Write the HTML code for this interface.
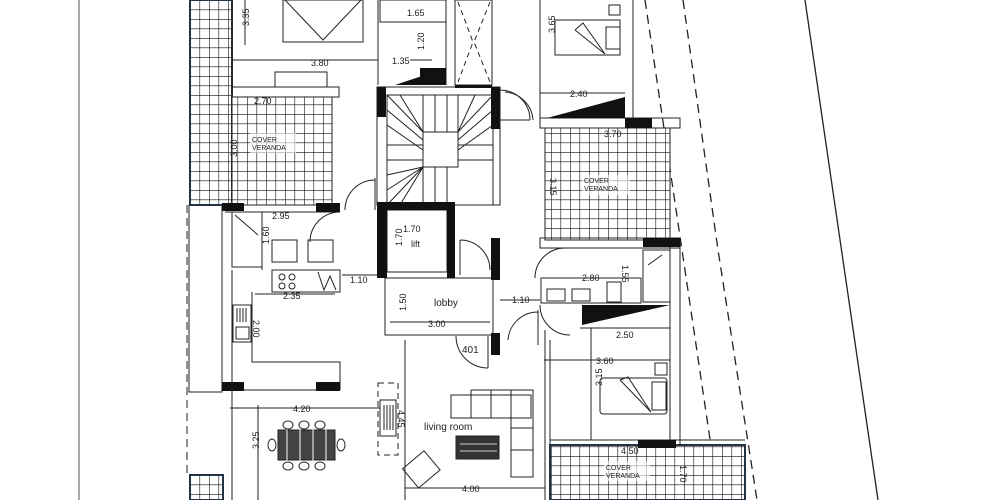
<!DOCTYPE html>
<html><head><meta charset="utf-8"><style>
html,body{margin:0;padding:0;background:#fff;}
svg{display:block}
text{font-family:"Liberation Sans",sans-serif;fill:#222;stroke:none;}
</style></head><body>
<svg width="1000" height="500" viewBox="0 0 1000 500" xmlns="http://www.w3.org/2000/svg">
<defs>
<pattern id="g" width="9.5" height="9.5" patternUnits="userSpaceOnUse">
<rect width="9.5" height="9.5" fill="#fff"/>
<path d="M0 0H9.5M0 0V9.5" stroke="#111" stroke-width="1.2"/>
</pattern>
</defs>
<g fill="none" stroke="#222" stroke-width="1">
<line x1="79" y1="0" x2="79" y2="500" stroke="#555"/>
<line x1="805" y1="0" x2="878" y2="500" stroke-width="1.3"/>
<polyline points="645,0 682,250 719,500" stroke-dasharray="9,6" stroke-width="1.3"/>
<polyline points="683,0 718,250 757,500" stroke-dasharray="9,6" stroke-width="1.3"/>
<line x1="187" y1="205" x2="187" y2="478" stroke-dasharray="8,5"/>
<rect x="189" y="205" width="33" height="187"/>
</g>
<rect x="190" y="0" width="42" height="205" fill="url(#g)" stroke="#234" stroke-width="2"/>
<rect x="232" y="97" width="100" height="108" fill="url(#g)" stroke="#222"/>
<rect x="545" y="128" width="125" height="112" fill="url(#g)" stroke="#222"/>
<rect x="550" y="445" width="195" height="55" fill="url(#g)" stroke="#234" stroke-width="2"/>
<rect x="190" y="475" width="33" height="25" fill="url(#g)" stroke="#234" stroke-width="2"/>
<g fill="#fff" stroke="none" opacity="0.6">
<rect x="250" y="133" width="46" height="20"/><rect x="582" y="175" width="48" height="20"/><rect x="604" y="461" width="46" height="20"/>
</g>
<text x="252" y="142" font-size="7">COVER</text><text x="252" y="150" font-size="7">VERANDA</text>
<text x="584" y="183" font-size="7">COVER</text><text x="584" y="191" font-size="7">VERANDA</text>
<text x="606" y="470" font-size="7">COVER</text><text x="606" y="478" font-size="7">VERANDA</text>

<g fill="none" stroke="#222" stroke-width="1">
<rect x="283" y="0" width="80" height="42"/>
<polyline points="285,0 323,40 361,0"/>
<line x1="232" y1="0" x2="232" y2="90"/>
<line x1="245" y1="0" x2="245" y2="45"/>
<rect x="232" y="87" width="107" height="10"/>
<rect x="275" y="72" width="52" height="15"/>
<line x1="232" y1="60" x2="378" y2="60"/>
<line x1="378" y1="0" x2="378" y2="85"/>
<rect x="380" y="0" width="66" height="22"/>
<line x1="446" y1="0" x2="446" y2="85"/>
<rect x="455" y="0" width="37" height="85"/>
<polyline points="458,2 473,42 458,82" stroke-dasharray="5,4"/>
<polyline points="490,2 474,42 490,82" stroke-dasharray="5,4"/>
<line x1="410" y1="60" x2="432" y2="60"/>
<rect x="377" y="87" width="123" height="118"/>
<rect x="387" y="95" width="106" height="110"/>
<rect x="423" y="132" width="35" height="35"/>
<path d="M387,95 423,132 M493,95 458,132 M387,205 423,167 M423,95V132 M435,95V132 M447,95V132 M458,95V132 M400,95L423,132 M475,95 458,132 M387,110 423,140 M387,125 423,150 M387,145H423 M387,160H423 M387,175 423,167 M387,190 423,167 M493,110 458,140 M493,125 458,150 M458,145H493 M458,160H493 M423,167V205 M435,167V205 M447,167V205 M400,205 423,167"/>
<path d="M500,90 A30,30 0 0 1 530,120 M500,120H530"/>
<rect x="387" y="210" width="60" height="62"/>
<path d="M460,240 A30,30 0 0 1 490,270 M460,240V275"/>
<rect x="385" y="278" width="108" height="57"/>
<line x1="390" y1="322" x2="490" y2="322"/>
<path d="M456,336 A32,32 0 0 0 488,368 M488,336V368"/>
<line x1="405" y1="340" x2="405" y2="500"/>
<line x1="342" y1="275" x2="378" y2="275"/>
<path d="M345,210 A30,30 0 0 1 375,180 M375,178V210"/>
<rect x="232" y="212" width="30" height="55"/>
<line x1="235" y1="215" x2="258" y2="235"/>
<line x1="262" y1="212" x2="262" y2="270"/>
<rect x="272" y="240" width="25" height="22"/><rect x="308" y="240" width="25" height="22"/>
<line x1="225" y1="212" x2="340" y2="212"/>
<path d="M340,212 A30,30 0 0 0 310,242"/>
<rect x="272" y="270" width="68" height="22"/>
<circle cx="282" cy="277" r="3"/><circle cx="292" cy="277" r="3"/><circle cx="282" cy="286" r="3"/><circle cx="292" cy="286" r="3"/>
<polyline points="318,272 324,290 330,276 336,290"/>
<line x1="232" y1="270" x2="232" y2="500"/>
<polyline points="252,292 252,362 340,362 340,390"/>
<line x1="255" y1="294" x2="335" y2="294"/>
<rect x="233" y="305" width="18" height="37"/>
<path d="M237,308V322M240,308V322M243,308V322M246,308V322"/>
<rect x="236" y="327" width="13" height="12"/>
<line x1="225" y1="390" x2="340" y2="390"/>
<line x1="230" y1="408" x2="380" y2="408"/>
<line x1="258" y1="405" x2="258" y2="500"/>
<rect x="278" y="430" width="57" height="30" fill="#444"/>
<path d="M287,420V470M300,420V470M313,420V470M326,420V470" stroke="#fff"/>
<ellipse cx="288" cy="425" rx="5" ry="4"/><ellipse cx="304" cy="425" rx="5" ry="4"/><ellipse cx="320" cy="425" rx="5" ry="4"/>
<ellipse cx="288" cy="466" rx="5" ry="4"/><ellipse cx="304" cy="466" rx="5" ry="4"/><ellipse cx="320" cy="466" rx="5" ry="4"/>
<ellipse cx="272" cy="445" rx="4" ry="6"/><ellipse cx="341" cy="445" rx="4" ry="6"/>
<rect x="378" y="383" width="20" height="72" stroke-dasharray="6,4"/>
<rect x="380" y="400" width="16" height="36"/>
<path d="M384,405V430M387,405V430M390,405V430M393,405V430"/>
<rect x="451" y="395" width="80" height="23"/>
<path d="M471,390V418M491,390V418M471,390H533"/>
<rect x="511" y="390" width="22" height="87"/>
<path d="M511,428H533M511,450H533"/>
<rect x="456" y="436" width="43" height="23" fill="#333"/>
<path d="M460,444H497M460,451H497" stroke="#ccc"/>
<rect x="407" y="457" width="28" height="25" transform="rotate(-40 421 469)"/>
<line x1="405" y1="488" x2="545" y2="488"/>
<line x1="545" y1="330" x2="545" y2="500"/>
<line x1="550" y1="340" x2="550" y2="445"/>
<line x1="540" y1="0" x2="540" y2="118"/>
<line x1="633" y1="0" x2="633" y2="118"/>
<rect x="555" y="20" width="65" height="35"/>
<rect x="606" y="27" width="14" height="22"/>
<rect x="609" y="5" width="11" height="10"/>
<polyline points="575,30 583,23 605,54 575,30"/>
<line x1="540" y1="93" x2="625" y2="93"/>
<rect x="540" y="118" width="140" height="10"/>
<path d="M505,92 A30,30 0 0 1 533,120"/>
<rect x="540" y="238" width="140" height="10"/>
<path d="M535,278 A30,30 0 0 1 565,248"/>
<rect x="541" y="278" width="100" height="25"/>
<rect x="547" y="289" width="18" height="12"/><rect x="572" y="289" width="18" height="12"/>
<rect x="607" y="282" width="14" height="20"/>
<rect x="643" y="250" width="27" height="52"/>
<line x1="648" y1="265" x2="662" y2="255"/>
<line x1="500" y1="300" x2="540" y2="300"/>
<path d="M508,340 A30,30 0 0 1 538,312 M538,310V345"/>
<path d="M540,305 A30,30 0 0 0 570,335"/>
<line x1="580" y1="328" x2="670" y2="328"/>
<line x1="544" y1="360" x2="670" y2="360"/>
<line x1="591" y1="328" x2="591" y2="440"/>
<rect x="600" y="378" width="67" height="36" rx="3"/>
<rect x="652" y="382" width="14" height="28"/>
<rect x="655" y="363" width="12" height="12"/>
<polyline points="620,380 628,377 651,412 620,380"/>
<line x1="670" y1="240" x2="670" y2="445"/>
<line x1="680" y1="240" x2="680" y2="445"/>
<line x1="550" y1="440" x2="745" y2="440"/>
</g>
<g fill="#111">
<rect x="377" y="87" width="9" height="30"/><rect x="491" y="87" width="9" height="42"/>
<rect x="377" y="202" width="78" height="8"/><rect x="377" y="202" width="10" height="76"/>
<rect x="447" y="202" width="8" height="76"/>
<rect x="491" y="238" width="9" height="42"/><rect x="491" y="333" width="9" height="22"/>
<rect x="222" y="203" width="22" height="8"/><rect x="316" y="203" width="24" height="9"/>
<rect x="222" y="382" width="22" height="9"/><rect x="316" y="382" width="24" height="9"/>
<rect x="625" y="118" width="27" height="10"/><rect x="643" y="238" width="37" height="9"/>
<rect x="638" y="440" width="38" height="8"/>
<polygon points="420,68 446,68 446,85 420,85"/>
<polygon points="395,85 446,68 446,85"/>
<polygon points="547,118 625,97 625,118"/>
<polygon points="582,305 670,305 582,325"/>
<rect x="455" y="85" width="37" height="3"/>
</g>
<g font-size="9">
<text x="311" y="66">3.80</text>
<text x="392" y="64">1.35</text>
<text x="407" y="16">1.65</text>
<text x="414" y="50" transform="rotate(-90 419 45)">1.20</text>
<text x="254" y="104">2.70</text>
<text x="272" y="219">2.95</text>
<text x="225" y="155" transform="rotate(-90 232 150)">3.00</text>
<text x="238" y="25" transform="rotate(-90 244 20)">3.35</text>
<text x="258" y="243" transform="rotate(-90 264 238)">1.60</text>
<text x="403" y="232">1.70</text>
<text x="411" y="247">lift</text>
<text x="392" y="244" transform="rotate(-90 398 240)">1.70</text>
<text x="434" y="306" font-size="10">lobby</text>
<text x="428" y="327">3.00</text>
<text x="392" y="313" transform="rotate(-90 398 305)">1.50</text>
<text x="462" y="353" font-size="10">401</text>
<text x="350" y="283">1.10</text>
<text x="283" y="299">2.35</text>
<text x="253" y="330" transform="rotate(90 258 325)">2.00</text>
<text x="293" y="412">4.20</text>
<text x="250" y="450" transform="rotate(-90 254 445)">3.25</text>
<text x="398" y="420" transform="rotate(90 403 415)">4.45</text>
<text x="424" y="430" font-size="10">living room</text>
<text x="462" y="492">4.00</text>
<text x="540" y="38" transform="rotate(-90 545 28)">3.65</text>
<text x="570" y="97">2.40</text>
<text x="604" y="137">3.70</text>
<text x="548" y="190" transform="rotate(90 555 185)">3.15</text>
<text x="582" y="281">2.80</text>
<text x="625" y="278" transform="rotate(90 630 270)">1.55</text>
<text x="512" y="303">1.10</text>
<text x="616" y="338">2.50</text>
<text x="596" y="364">3.60</text>
<text x="586" y="390" transform="rotate(-90 592 380)">3.15</text>
<text x="621" y="454">4.50</text>
<text x="685" y="480" transform="rotate(90 690 470)">1.70</text>
</g>
</svg>
</body></html>
